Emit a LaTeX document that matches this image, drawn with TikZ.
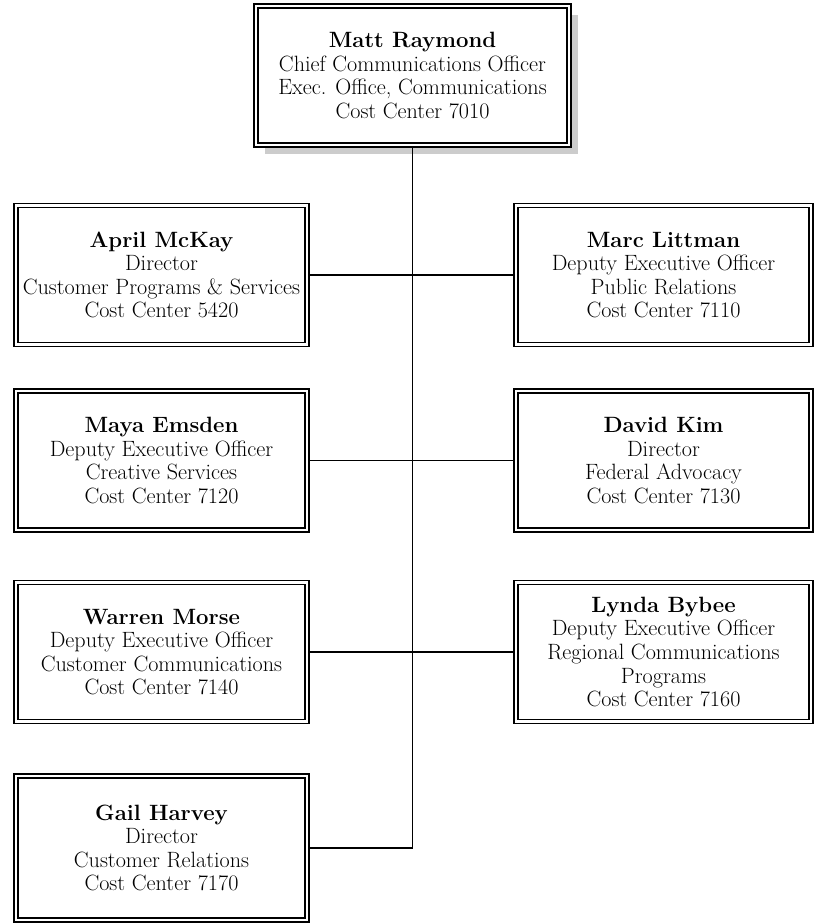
\documentclass[tikz,border=0pt]{standalone}
\usetikzlibrary{shadows}
\begin{document}
\begin{tikzpicture}[x={(0.75pt,0pt)},y={(0pt,-0.75pt)},every node/.style={draw, double, line width=1.2pt, double distance=1.8pt, outer sep=2.1pt, inner sep=0pt, align=center, fill=white, font=\fontsize{16.6}{17.7}\selectfont},
leftbox/.style={minimum width=218.5pt, minimum height=104pt},
rightbox/.style={minimum width=221.5pt, minimum height=104pt}]
\useasboundingbox (0,0) rectangle (815,924);
\node[minimum width=235pt, minimum height=104.5pt, drop shadow={shadow xshift=6.75pt, shadow yshift=-6.75pt, fill=black!20, opacity=1}] (raymond) at (412.5,75.5) {\textbf{Matt Raymond}\\Chief Communications Officer\\Exec. Office, Communications\\Cost Center 7010};
\node[leftbox] (mckay) at (161.5,275) {\textbf{April McKay}\\Director\\Customer Programs \& Services\\Cost Center 5420};
\node[rightbox] (littman) at (663.5,275) {\textbf{Marc Littman}\\Deputy Executive Officer\\Public Relations\\Cost Center 7110};
\node[leftbox] (emsden) at (161.5,460.5) {\textbf{Maya Emsden}\\Deputy Executive Officer\\Creative Services\\Cost Center 7120};
\node[rightbox] (kim) at (663.5,460.5) {\textbf{David Kim}\\Director\\Federal Advocacy\\Cost Center 7130};
\node[leftbox] (morse) at (161.5,652) {\textbf{Warren Morse}\\Deputy Executive Officer\\Customer Communications\\Cost Center 7140};
\node[rightbox] (bybee) at (663.5,652) {\textbf{Lynda Bybee}\\Deputy Executive Officer\\Regional Communications\\Programs\\Cost Center 7160};
\node[leftbox, minimum height=108.3pt] (harvey) at (161.5,848) {\textbf{Gail Harvey}\\Director\\Customer Relations\\Cost Center 7170};
\begin{scope}[line width=1.2pt]
\draw (raymond.south) |- (harvey.east);
\draw (mckay.east) -- (littman.west);
\draw (emsden.east) -- (kim.west);
\draw (morse.east) -- (bybee.west);
\end{scope}
\end{tikzpicture}
\end{document}
